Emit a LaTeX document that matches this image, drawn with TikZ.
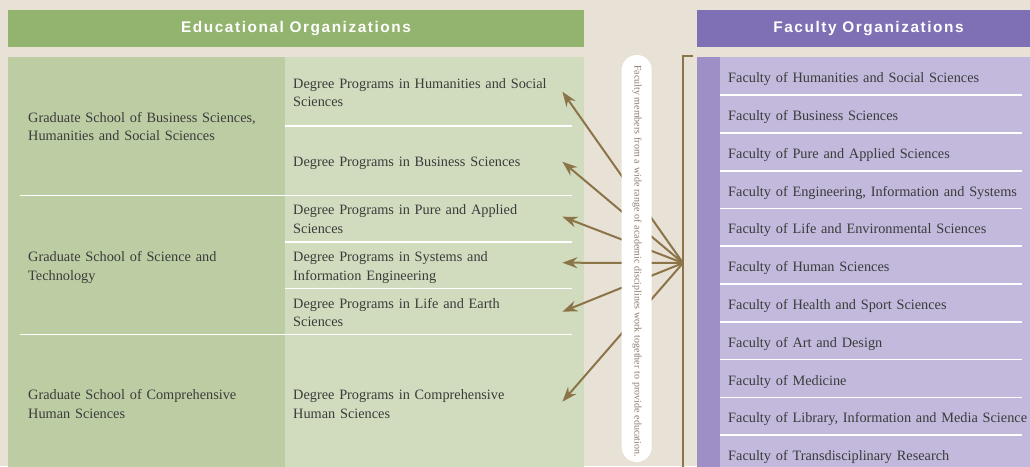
\documentclass[tikz,border=0pt]{standalone}
\usepackage{fontspec}
\setmainfont[WordSpace=0.85]{Liberation Serif}
\newfontfamily\hdfont[LetterSpace=10]{Liberation Sans}
\newfontfamily\pillfont{Liberation Serif}
\usetikzlibrary{arrows.meta}
\definecolor{bgc}{HTML}{E8E1D6}
\definecolor{greenhd}{HTML}{93B46F}
\definecolor{greenL}{HTML}{BDCDA3}
\definecolor{greenR}{HTML}{D1DCBE}
\definecolor{purphd}{HTML}{7F6FB4}
\definecolor{purpstrip}{HTML}{9E90C7}
\definecolor{purpbody}{HTML}{C2B9DC}
\definecolor{arrowc}{HTML}{8C7449}
\definecolor{txtc}{HTML}{3B3B3B}
\definecolor{pillc}{HTML}{8B7D6C}
\tikzset{
  hdr/.style={text=white, font=\hdfont\bfseries\fontsize{15.4}{18}\selectfont, inner sep=0pt, minimum height=37pt},
  txt/.style={text=txtc, font=\fontsize{14.3}{18.4}\selectfont, inner xsep=8pt, inner ysep=0pt, align=left, anchor=west},
  gradbox/.style={txt, text width=240pt},
  progbox/.style={txt, text width=261pt},
  facbox/.style={txt, text width=320pt},
  sepline/.style={white, line width=1.6pt},
  arr/.style={draw=arrowc, line width=2pt, -{Stealth[length=15pt,width=11pt,inset=5pt]}},
}
\begin{document}
\begin{tikzpicture}[x=1pt,y=-1pt]
\useasboundingbox (0,0) rectangle (1030,466);
\fill[bgc] (0,0) rectangle (1030,466);
% headers
\node[hdr, fill=greenhd, minimum width=576pt] (eduh) at (296,28.5) {Educational Organizations};
\node[hdr, fill=purphd, minimum width=343pt] (fach) at (868.5,28.5) {Faculty Organizations};
% bodies
\fill[greenL] (8,57) rectangle (285,470);
\fill[greenR] (285,57) rectangle (584,470);
\fill[purpstrip] (697,57) rectangle (720,470);
\fill[purpbody] (720,57) rectangle (1030,470);
% separators left
\draw[sepline] (20,195.5) -- (572,195.5);
\draw[sepline] (20,334.3) -- (572,334.3);
\draw[sepline] (285,126) -- (572,126);
\draw[sepline] (285,241.7) -- (572,241.7);
\draw[sepline] (285,288.3) -- (572,288.3);
% separators right
\foreach \yy in {95,132.7,170.7,208.3,246,283.7,321.7,359.3,397.3,435}
  \draw[sepline] (720,\yy) -- (1022,\yy);
% graduate schools
\node[gradbox] (g1) at (20,127.8) {Graduate School of Business Sciences,\strut\\Humanities and Social Sciences\strut};
\node[gradbox] (g2) at (20,267.2) {Graduate School of Science and\strut\\Technology\strut};
\node[gradbox] (g3) at (20,405.5) {Graduate School of Comprehensive\strut\\Human Sciences\strut};
% programs
\node[progbox] (p1) at (285,93.8) {Degree Programs in Humanities and Social\strut\\Sciences\strut};
\node[progbox] (p2) at (285,163.0) {Degree Programs in Business Sciences\strut};
\node[progbox] (p3) at (285,220.5) {Degree Programs in Pure and Applied\strut\\Sciences\strut};
\node[progbox] (p4) at (285,267.2) {Degree Programs in Systems and\strut\\Information Engineering\strut};
\node[progbox] (p5) at (285,313.8) {Degree Programs in Life and Earth\strut\\Sciences\strut};
\node[progbox] (p6) at (285,405.5) {Degree Programs in Comprehensive\strut\\Human Sciences\strut};
% faculties
\node[facbox] (f1) at (720,79.0) {Faculty of Humanities and Social Sciences\strut};
\node[facbox] (f2) at (720,116.8) {Faculty of Business Sciences\strut};
\node[facbox] (f3) at (720,154.6) {Faculty of Pure and Applied Sciences\strut};
\node[facbox] (f4) at (720,192.4) {Faculty of Engineering, Information and Systems\strut};
\node[facbox] (f5) at (720,230.2) {Faculty of Life and Environmental Sciences\strut};
\node[facbox] (f6) at (720,268.0) {Faculty of Human Sciences\strut};
\node[facbox] (f7) at (720,305.8) {Faculty of Health and Sport Sciences\strut};
\node[facbox] (f8) at (720,343.6) {Faculty of Art and Design\strut};
\node[facbox] (f9) at (720,381.4) {Faculty of Medicine\strut};
\node[facbox] (f10) at (720,419.2) {Faculty of Library, Information and Media Science\strut};
\node[facbox] (f11) at (720,457.0) {Faculty of Transdisciplinary Research\strut};
% bracket and hub
\coordinate (brtop) at (693,56);
\coordinate (brcorner) at (683,56);
\coordinate (brbottom) at (683,470);
\coordinate (hub) at (683,263);
\draw[arrowc, line width=2.8pt] (brtop) -- (brcorner) -- (brbottom);
% arrows
\draw[arr] (hub) -- ([yshift=2.1pt]p1.east);
\draw[arr] (hub) -- ([yshift=1.3pt]p2.east);
\draw[arr] (hub) -- ([yshift=3.8pt]p3.east);
\draw[arr] (hub) -- ([yshift=4.5pt]p4.east);
\draw[arr] (hub) -- ([yshift=2.1pt]p5.east);
\draw[arr] (hub) -- ([yshift=3.8pt]p6.east);
% pill
\fill[white, rounded corners=15pt] (621.7,55) rectangle (651.7,462);
\node[rotate=-90, font=\pillfont\fontsize{10}{12}\selectfont, text=pillc, inner sep=0pt] (pilltxt) at (637,261)
  {\makebox[392pt][s]{Faculty members from a wide range of academic disciplines work together to provide education.}};
\end{tikzpicture}
\end{document}
